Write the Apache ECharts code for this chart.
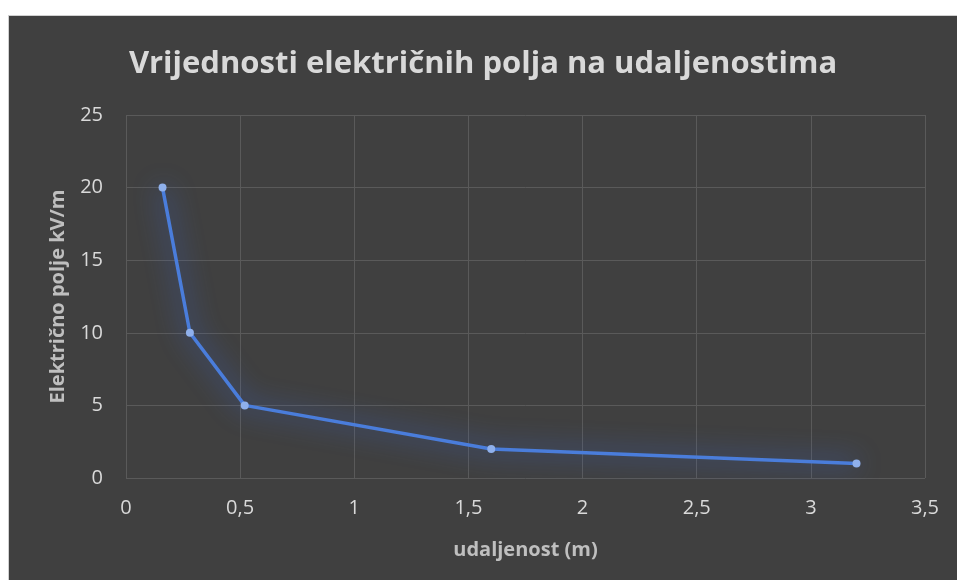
<!DOCTYPE html>
<html>
<head>
<meta charset="utf-8">
<script src="https://cdn.jsdelivr.net/npm/echarts@6/dist/echarts.min.js"></script>
<style>
html, body { margin: 0; padding: 0; background: #fff; }
#chart { position: absolute; left: 8px; top: 15px; width: 948px; height: 564px;
  background: #404040; border-left: 1px solid #d0d0d0; border-top: 1px solid #d0d0d0; }
</style>
</head>
<body>
<div id="chart"></div>
<script>
// udaljenost (m) / električno polje (kV/m)
var distances = [0.16, 0.28, 0.52, 1.6, 3.2];
var fieldValues = [20, 10, 5, 2, 1];
var titleText = 'Vrijednosti električnih polja na udaljenostima';
var xName = 'udaljenost (m)';
var yName = 'Električno polje kV/m';

var points = [];
for (var i = 0; i < distances.length; i++) {
	points.push([distances[i], fieldValues[i]]);
}

var fontFam = '"Open Sans", "Noto Sans", sans-serif';
var txtColor = '#d9d9d9';
var nameColor = '#bfbfbf';

var myChart = echarts.init(document.getElementById('chart'));
var option = {
	animation: false,
	title: {
		text: titleText,
		left: 'center',
		top: 28,
		textStyle: { color: txtColor, fontSize: 31, fontWeight: 'bold', fontFamily: fontFam }
	},
	grid: { left: 117, top: 99, right: 32, bottom: 102 },
	xAxis: {
		type: 'value',
		min: 0, max: 3.5, interval: 0.5,
		name: xName,
		nameLocation: 'middle',
		nameGap: 62,
		nameTextStyle: { color: nameColor, fontSize: 20, fontWeight: 'bold', fontFamily: fontFam },
		axisLine: { show: false },
		axisTick: { show: false },
		axisLabel: {
			color: txtColor, fontSize: 20, fontFamily: fontFam, margin: 20,
			formatter: function (v) { return String(v).replace('.', ','); }
		},
		splitLine: { show: true, lineStyle: { color: '#5a5a5a', width: 1 } }
	},
	yAxis: {
		type: 'value',
		min: 0, max: 25, interval: 5,
		name: yName,
		nameLocation: 'middle',
		nameGap: 58,
		nameTextStyle: { color: nameColor, fontSize: 20, fontWeight: 'bold', fontFamily: fontFam },
		axisLine: { show: false },
		axisTick: { show: false },
		axisLabel: { color: txtColor, fontSize: 20, fontFamily: fontFam, margin: 23 },
		splitLine: { show: true, lineStyle: { color: '#5a5a5a', width: 1 } }
	},
	series: [{
		type: 'line',
		data: points,
		symbol: 'circle',
		symbolSize: 8,
		itemStyle: { color: '#8fb0ec', borderWidth: 0 },
		lineStyle: {
			color: '#4a7ddb', width: 3.5,
			shadowColor: 'rgba(60,110,235,1)', shadowBlur: 26
		}
	}]
};
myChart.setOption(option);
</script>
</body>
</html>
